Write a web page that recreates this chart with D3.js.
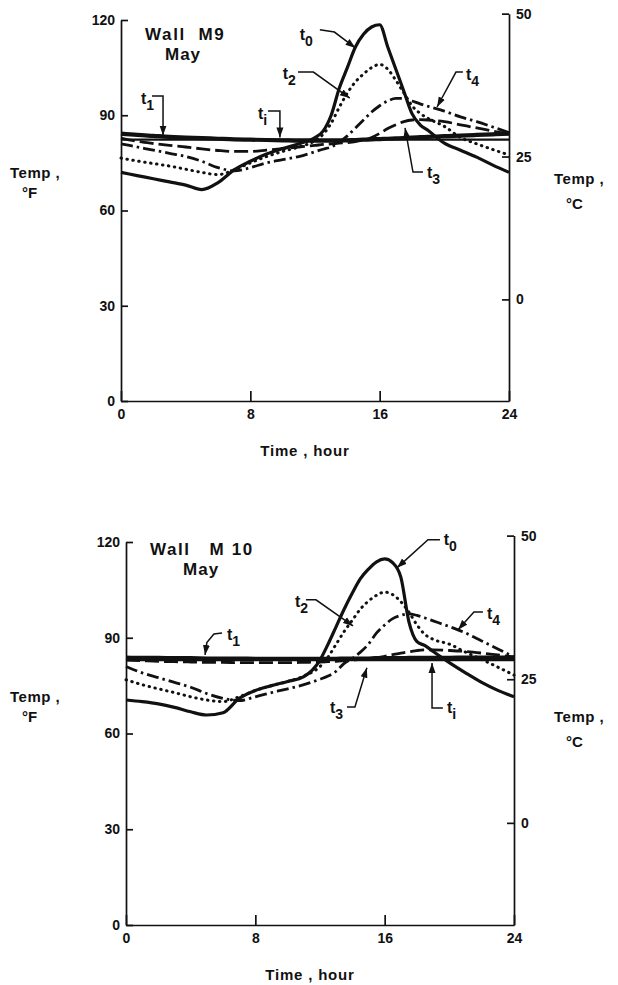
<!DOCTYPE html>
<html>
<head>
<meta charset="utf-8">
<script src="https://cdn.jsdelivr.net/npm/d3@7"></script>
<style>
body{margin:0;background:#fff}
text{font-family:"Liberation Sans",Arial,sans-serif;font-weight:bold;fill:#111}
</style>
</head>
<body>
<svg id="chart" width="618" height="985"></svg>
<script>
// hours of day, shared by every curve
const hours = [0,1,2,3,4,5,6,7,8,9,10,11,12,12.5,13,13.5,14,14.5,15,15.5,16,16.5,17,17.5,18,18.5,19,20,21,22,23,24];

// Wall M9, May (deg F)
const m9T0 = [72,71,70,69,68,66.6,68.8,72.8,75.5,77.8,79.5,81,83, 85,90,98.5,105,111.5,115.5,117.8,118.5,111.5,104.5,97.5,90.5,87,85.2, 81.2,79,76.8,74.3,72];
const m9T1 = [84.2,83.8,83.5,83.2,83,82.8,82.6,82.4,82.3,82.2,82.1,82,82, 82,82,82,82.1,82.2,82.3,82.4,82.5,82.6,82.7,82.8,83,83.1,83.2, 83.4,83.6,83.8,84,84.2];
const m9T2 = [76.5,75.6,74.8,74,73,72,71.3,72.8,75,77,78.6,80,82, 84,87.5,92.5,97,100.5,103,105,106,104.5,101,97,93,90.6,89, 86.5,83,81,79.2,77.5];
const m9T3 = [82.8,81.8,81.1,80.5,80,79.4,78.9,78.6,78.6,79,79.5,80,80.5, 80.8,81,81.2,81.4,81.7,82.2,83,84.3,85.8,87,88,88.5,88.6,88.5, 88,87,86,85,84];
const m9T4 = [81,80,79,78,77,75.5,73.5,72.5,73.5,75,76,77,78.5, 79.3,80,81.5,83.5,86,88.5,91,93,94.5,95.3,95.3,94.5,93.6,92.8, 91.3,89.5,88,86.3,84.5];
const m9Ti = [82.3,82.3,82.3,82.3,82.3,82.3,82.3,82.3,82.3,82.3,82.3,82.3,82.3, 82.3,82.3,82.3,82.3,82.3,82.3,82.3,82.3,82.3,82.3,82.3,82.3,82.3,82.3, 82.3,82.3,82.3,82.3,82.3];

// Wall M10, May (deg F)
const m10T0 = [70.5,70,69.3,68.2,66.8,65.8,66.5,71,73.5,75,76.3,77.8,83, 88,93.5,99,104,108.5,111.5,113.8,114.7,113.5,109,95,88.8,87.5,85.7, 82.2,79,76,73.5,71.5];
const m10T1 = [83.8,83.7,83.7,83.6,83.6,83.5,83.5,83.5,83.4,83.4,83.4,83.4,83.4, 83.4,83.4,83.5,83.5,83.5,83.5,83.6,83.6,83.6,83.6,83.7,83.7,83.7,83.7, 83.7,83.8,83.8,83.8,83.8];
const m10T2 = [76.8,75.3,74,72.8,71.5,70.5,70,71.5,73.5,75,76.3,78,81, 84,88,92,95.5,99,101.5,103.3,104.3,103.5,101.3,98,94,91,89.5, 88,85.5,83.2,80.8,78.3];
const m10T3 = [83,82.8,82.6,82.5,82.4,82.3,82.3,82.2,82.2,82.2,82.2,82.3,82.4, 82.5,82.6,82.8,83,83.2,83.5,83.8,84.2,84.7,85.2,85.6,86,86.2,86.2, 86,85.7,85.2,84.6,84];
const m10T4 = [81,79,77.5,76,74.5,72.5,71,70.3,71.5,72.8,74,75.3,77, 78,79.5,82,83.5,85.5,88,91.5,94,96,97,97.5,97,96.2,95.3, 93.5,91.5,89,86.5,84];
const m10Ti = [83,83,83,83,83,83,83,83,83,83,83,83,83, 83,83,83,83,83,83,83,83,83,83,83,83,83,83, 83,83,83,83,83];

// axis ticks
const hourTicks = [0,8,16,24];
const fTicks = [0,30,60,90,120];
const cTicks = [0,25,50];

// label leaders, in (hour, degF): text anchor, then leader points ending at arrow tip
const m9Labels = [
  {name:"t", sub:"0", at:[11.05,113.6], path:[[12.3,116.9],[13.2,116.2],[14.5,111.2]]},
  {name:"t", sub:"2", at:[10.0,101.4], path:[[10.95,103.6],[11.9,103.6],[14.15,95.4]]},
  {name:"t", sub:"1", at:[1.24,93.5], path:[[1.92,96.1],[2.6,96.1],[2.6,83.6]]},
  {name:"t", sub:"i", at:[8.47,88.8], path:[[9.09,91.3],[9.83,91.3],[9.83,83.0]]},
  {name:"t", sub:"4", at:[21.34,101.1], path:[[21.15,103.6],[20.72,103.6],[19.55,92.6]]},
  {name:"t", sub:"3", at:[18.93,70.2], path:[[18.68,72.1],[18.06,72.1],[17.57,86.0]]}
];
const m10Labels = [
  {name:"t", sub:"0", at:[19.65,119.1], path:[[19.42,120.7],[18.68,120.7],[16.76,111.9]]},
  {name:"t", sub:"2", at:[10.45,99.7], path:[[11.13,101.9],[11.75,101.9],[14.04,93.7]]},
  {name:"t", sub:"1", at:[6.25,89.3], path:[[5.94,91.5],[5.44,91.2],[5.0,88.5],[4.89,84.6]]},
  {name:"t", sub:"4", at:[22.33,95.9], path:[[22.08,98.1],[21.52,98.1],[20.54,92.5]]},
  {name:"t", sub:"3", at:[12.62,66.5], path:[[13.67,68.3],[14.16,68.3],[14.9,80.6]]},
  {name:"t", sub:"i", at:[19.85,66.5], path:[[19.6,68.0],[18.93,68.0],[18.93,82.1]]}
];

const svg = d3.select("#chart");

svg.append("defs").append("marker")
  .attr("id","arrow")
  .attr("markerUnits","userSpaceOnUse")
  .attr("viewBox","0 0 10 8")
  .attr("refX",10).attr("refY",4)
  .attr("markerWidth",10).attr("markerHeight",8)
  .attr("orient","auto")
  .append("path").attr("d","M0,0.5 L10,4 L0,7.5 Z").attr("fill","#111");

const styles = {
  t0: {w:3.2, dash:null},
  t1: {w:4.2, dash:null},
  ti: {w:2.2, dash:null},
  t2: {w:3, dash:"0.5,5.5", cap:"round"},
  t3: {w:2.8, dash:"14,5"},
  t4: {w:2.8, dash:"12,4,2.5,4"}
};

function panel(p){
  let x = d3.scaleLinear().domain([0,24]).range([p.left,p.right]);
  let y = d3.scaleLinear().domain([0,120]).range([p.bottom,p.top]);
  // celsius scale on the same grid as fahrenheit
  let yc = d3.scaleLinear().domain([-160/9, 50]).range([y(0), y(122)]);

  let g = svg.append("g");

  let ax = g.append("g").attr("transform",`translate(${p.left},0)`)
    .call(d3.axisLeft(y).tickValues(fTicks).tickSize(-7).tickSizeOuter(0).tickPadding(6));
  let ar = g.append("g").attr("transform",`translate(${p.right},0)`)
    .call(d3.axisRight(yc).tickValues(cTicks).tickSize(-7).tickSizeOuter(0).tickPadding(7));
  let ab = g.append("g").attr("transform",`translate(0,${p.bottom})`)
    .call(d3.axisBottom(x).tickValues(hourTicks).tickSize(-10).tickSizeOuter(0).tickPadding(8));

  [ax,ar,ab].forEach(a=>{
    a.attr("font-family",null).attr("font-size",null);
    a.selectAll("path,line").attr("stroke","#111").attr("stroke-width",1.7);
    a.selectAll("text").attr("font-size",14).attr("fill","#111");
  });

  let line = d3.line().x(d=>x(d[0])).y(d=>y(d[1])).curve(d3.curveMonotoneX);

  p.series.forEach(s=>{
    let st = styles[s.key];
    g.append("path")
      .datum(hours.map((h,i)=>[h, s.values[i]]))
      .attr("d", line)
      .attr("fill","none")
      .attr("stroke","#111")
      .attr("stroke-width", st.w)
      .attr("stroke-dasharray", st.dash)
      .attr("stroke-linecap", st.cap || "butt")
      .attr("stroke-linejoin","round");
  });

  let leader = d3.line().x(d=>x(d[0])).y(d=>y(d[1]));
  p.labels.forEach(l=>{
    g.append("path")
      .attr("d", leader(l.path))
      .attr("fill","none")
      .attr("stroke","#111")
      .attr("stroke-width",1.5)
      .attr("marker-end","url(#arrow)");
    let t = g.append("text")
      .attr("x", x(l.at[0])).attr("y", y(l.at[1]))
      .attr("font-size",16)
      .text(l.name);
    t.append("tspan").attr("dy",6).attr("font-size",14).text(l.sub);
  });

  // panel title
  g.append("text").attr("x",x(p.title[0])).attr("y",y(p.title[1]))
    .attr("font-size",17).attr("letter-spacing",1.6).style("white-space","pre").text(p.titleText);
  g.append("text").attr("x",x(p.month[0])).attr("y",y(p.month[1]))
    .attr("font-size",17).attr("letter-spacing",1).text("May");

  // axis titles
  g.append("text").attr("x",10).attr("y",p.lt).attr("font-size",15).attr("letter-spacing",0.5).style("white-space","pre").text("Temp ,");
  g.append("text").attr("x",22).attr("y",p.lt+20).attr("font-size",15).text("°F");
  g.append("text").attr("x",554).attr("y",p.rt).attr("font-size",15).attr("letter-spacing",0.5).style("white-space","pre").text("Temp ,");
  g.append("text").attr("x",566).attr("y",p.rt+25).attr("font-size",15).text("°C");
  g.append("text").attr("x",(p.left+p.right)/2-10).attr("y",p.bottom+55)
    .attr("text-anchor","middle").attr("font-size",15).attr("letter-spacing",0.8).style("white-space","pre").text("Time , hour");
}

panel({
  left:121, right:509, top:20, bottom:401,
  titleText:"Wall  M9", title:[1.49,113.7], month:[2.72,107.4],
  lt:178, rt:184,
  series:[
    {key:"ti", values:m9Ti},
    {key:"t1", values:m9T1},
    {key:"t3", values:m9T3},
    {key:"t4", values:m9T4},
    {key:"t2", values:m9T2},
    {key:"t0", values:m9T0}
  ],
  labels:m9Labels
});

panel({
  left:126, right:514, top:542, bottom:925,
  titleText:"Wall   M 10", title:[1.48,116], month:[3.53,109.7],
  lt:702, rt:722,
  series:[
    {key:"ti", values:m10Ti},
    {key:"t1", values:m10T1},
    {key:"t3", values:m10T3},
    {key:"t4", values:m10T4},
    {key:"t2", values:m10T2},
    {key:"t0", values:m10T0}
  ],
  labels:m10Labels
});
</script>
</body>
</html>
